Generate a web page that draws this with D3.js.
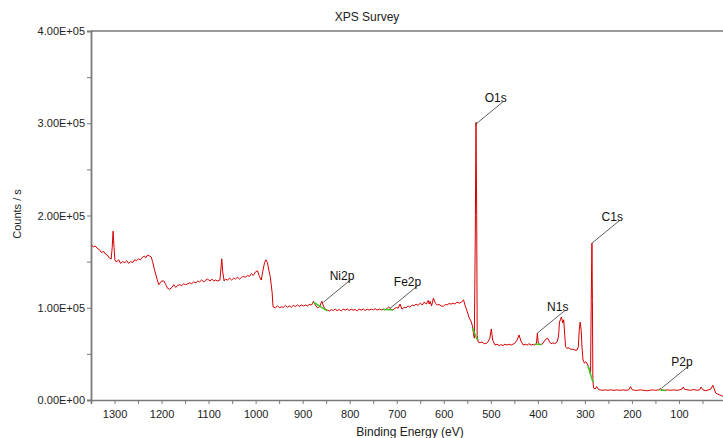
<!DOCTYPE html>
<html>
<head>
<meta charset="utf-8">
<script src="https://d3js.org/d3.v7.min.js"></script>
<style>
  body { margin: 0; background: #fff; }
  svg { display: block; font-family: "Liberation Sans", Arial, sans-serif; }
  .axis path, .axis line { stroke: #7a7a7a; }
  .axis text { fill: #222; font-size: 11px; }
</style>
</head>
<body>
<svg width="723" height="438"></svg>
<script>
// spectrum, binding energy (eV) and counts/s
var energy = [1349, 1345, 1341, 1336, 1332, 1328, 1323, 1319, 1315, 1311, 1307, 1305, 1303, 1301, 1299,
  1295, 1291, 1287, 1283, 1278, 1274, 1270, 1266, 1261, 1257, 1253, 1249, 1245, 1240, 1236, 1234, 1230,
  1225, 1222, 1219, 1215, 1210, 1206, 1203, 1200, 1195, 1191, 1187, 1183, 1178, 1174, 1170, 1166, 1161,
  1157, 1153, 1149, 1144, 1140, 1136, 1132, 1127, 1123, 1119, 1115, 1110, 1106, 1102, 1097, 1093, 1089,
  1085, 1081, 1076, 1074, 1072, 1070, 1067, 1064, 1060, 1055, 1051, 1047, 1043, 1039, 1034, 1030, 1026,
  1022, 1017, 1013, 1009, 1005, 1000, 996, 992, 988, 985, 981, 978, 975, 972, 969, 965, 963, 958, 954,
  949, 945, 941, 937, 932, 928, 924, 920, 915, 911, 907, 903, 898, 894, 890, 886, 881, 877, 873, 869,
  864, 861, 859, 856, 852, 848, 843, 839, 835, 831, 827, 822, 818, 814, 810, 805, 801, 797, 793, 788,
  784, 780, 776, 771, 767, 763, 759, 754, 750, 746, 742, 737, 733, 729, 725, 720, 717, 714, 710, 706,
  701, 697, 693, 689, 684, 680, 676, 672, 667, 663, 659, 655, 650, 646, 642, 637, 633, 631, 629, 626,
  622, 618, 614, 610, 605, 601, 597, 593, 589, 584, 580, 576, 572, 567, 563, 558, 555, 550, 546, 542,
  539, 537, 535, 533, 531.5, 530, 529, 527, 523, 519, 514, 509, 506, 502, 499, 496, 491, 487, 482, 478,
  474, 470, 466, 461, 457, 453, 449, 444, 440, 436, 431, 427, 423, 419, 414, 410, 406, 403, 401, 399,
  395, 391, 387, 383, 379, 375, 372, 368, 364, 359, 356, 354, 352, 350, 347, 345, 343, 341, 338, 334,
  330, 325, 321, 317, 314, 312, 310, 308, 306, 304, 301, 298, 295, 293, 290, 288, 286.5, 285, 284, 283,
  281.5, 278, 275, 271, 268, 264, 257, 251, 245, 238, 232, 226, 219, 213, 207, 203, 199, 194, 188, 181,
  175, 168, 162, 156, 150, 143, 139, 136, 130, 124, 118, 111, 105, 98, 93, 91, 88, 81, 75, 69, 62, 56,
  53, 49, 43, 37, 32, 28, 25, 22, 18, 13, 9, 5, 0];
var counts = [168000, 166000, 167000, 164000, 163000, 160000, 161000, 158000, 157000, 154000, 153000,
  165000, 183000, 165000, 151000, 150000, 152000, 148000, 150000, 149000, 151000, 148000, 150000, 149000,
  152000, 151000, 153000, 152000, 155000, 156000, 154000, 157000, 156000, 155000, 150000, 141000, 132000,
  125000, 127000, 129000, 129000, 125000, 121000, 120000, 122000, 125000, 122000, 124000, 125000, 124000,
  126000, 125000, 126000, 127000, 126000, 128000, 127000, 129000, 128000, 130000, 128000, 130000, 131000,
  129000, 131000, 129000, 130000, 129000, 130000, 141000, 153000, 139000, 129000, 131000, 130000, 132000,
  130000, 132000, 131000, 133000, 131000, 133000, 134000, 133000, 135000, 134000, 137000, 135000, 139000,
  140000, 134000, 130000, 139000, 149000, 152000, 149000, 141000, 134000, 117000, 101000, 100000, 102000,
  100000, 101000, 100500, 102500, 100500, 102000, 100500, 102500, 101500, 103000, 101500, 103000, 102000,
  103000, 102000, 103500, 103000, 107000, 103000, 100000, 101000, 105000, 107000, 102000, 98500, 97500,
  96500, 98000, 97000, 98500, 97000, 98000, 96500, 98500, 97500, 98500, 97000, 98500, 97500, 98000, 96500,
  98500, 97500, 98500, 97000, 98500, 97500, 98500, 97500, 99000, 97500, 98500, 97500, 98500, 97500, 99500,
  101000, 99000, 97500, 98500, 100500, 99500, 104000, 98500, 100500, 100000, 102000, 100500, 103000,
  102000, 104000, 102500, 105000, 103000, 106000, 104000, 108000, 104000, 107000, 102000, 110500, 105000,
  103000, 103500, 102000, 101500, 103500, 103000, 104500, 104000, 105000, 104000, 106000, 105000, 106000,
  108500, 103000, 95500, 89000, 85500, 80000, 72500, 67000, 180000, 301000, 200000, 70000, 63000, 62000,
  63000, 61000, 61500, 63000, 67000, 77000, 65000, 59500, 60500, 59000, 60000, 59000, 60500, 59500, 60500,
  59500, 60500, 61500, 65000, 70500, 64000, 59500, 60500, 59500, 61000, 59500, 60500, 59500, 61500, 72500,
  61500, 60000, 60500, 63000, 66000, 67000, 63000, 61000, 62000, 61000, 63000, 69500, 84500, 87000, 90000,
  83500, 87000, 71500, 57500, 56000, 56500, 55000, 55000, 54000, 54000, 57500, 76000, 84500, 76000, 56500,
  43500, 40000, 41500, 39000, 37000, 32500, 27000, 108000, 170000, 108000, 21500, 13000, 12000, 14500,
  11500, 11000, 10500, 11000, 10500, 11000, 10500, 11000, 10500, 11000, 10500, 11000, 14500, 11000, 10500,
  10500, 11000, 10500, 10000, 10500, 11000, 10500, 11000, 12500, 11000, 10500, 11000, 10500, 11000, 10500,
  11000, 12000, 14000, 11500, 11000, 10500, 11500, 10500, 11000, 14000, 11000, 10000, 11000, 12000, 16000,
  12000, 7500, 6500, 5500, 4500, 3500, 2000];

// peak labels and where their leader lines touch the spectrum
var peakNames = ["Ni2p", "Fe2p", "O1s", "N1s", "C1s", "P2p"];
var peakEnergy = [856, 714, 532, 401, 285, 137];
var peakCounts = [106000, 99400, 299000, 72500, 170000, 12700];

// green background segments under each labelled peak
var bgFromEnergy = [877, 729, 539, 406, 293.5, 141];
var bgFromCounts = [106000, 98500, 78000, 60700, 36900, 10800];
var bgToEnergy = [848, 708, 528.5, 393, 283, 128];
var bgToCounts = [96500, 97500, 65000, 60200, 19500, 10300];

var xTicks = d3.range(0, 1351, 50);
var yTicks = d3.range(0, 400001, 50000);

var svg = d3.select("svg"),
    width = +svg.attr("width"),
    height = +svg.attr("height");

var x = d3.scaleLinear().domain([1350, 0]).range([91, 726]);
var y = d3.scaleLinear().domain([0, 400000]).range([400, 31]);

function sci(v) {
  var s = v.toExponential(2).split("e");
  var p = +s[1];
  return s[0] + "E" + (p < 0 ? "-" : "+") + (Math.abs(p) < 10 ? "0" : "") + Math.abs(p);
}

// top frame line
svg.append("line")
    .attr("x1", 91).attr("x2", width)
    .attr("y1", y(400000)).attr("y2", y(400000))
    .attr("stroke", "#7a7a7a").attr("stroke-width", 1.6);

svg.append("g")
    .attr("class", "axis")
    .attr("transform", "translate(0," + y(0) + ")")
    .call(d3.axisBottom(x).tickValues(xTicks).tickSizeOuter(0).tickSize(4).tickPadding(6)
      .tickFormat(function (d) { return d % 100 === 0 ? d : ""; }))
    .call(function (g) { g.select(".domain").attr("stroke-width", 1.6); });

svg.append("g")
    .attr("class", "axis")
    .attr("transform", "translate(91,0)")
    .call(d3.axisLeft(y).tickValues(yTicks).tickSizeOuter(0).tickSize(4).tickPadding(2)
      .tickFormat(function (d) { return d % 100000 === 0 ? sci(d) : ""; }))
    .call(function (g) { g.select(".domain").attr("stroke-width", 1.8); });

var pts = energy.map(function (e, i) { return [e, counts[i]]; });

var line = d3.line()
    .x(function (d) { return x(d[0]); })
    .y(function (d) { return y(d[1]); });

svg.append("path")
    .datum(pts)
    .attr("fill", "none")
    .attr("stroke", "#d40000")
    .attr("stroke-width", 1)
    .attr("d", line);

svg.selectAll(".bg")
    .data(peakNames)
    .enter()
    .append("line")
    .attr("class", "bg")
    .attr("x1", function (d, i) { return x(bgFromEnergy[i]); })
    .attr("y1", function (d, i) { return y(bgFromCounts[i]); })
    .attr("x2", function (d, i) { return x(bgToEnergy[i]); })
    .attr("y2", function (d, i) { return y(bgToCounts[i]); })
    .attr("stroke", "#3ccc2a")
    .attr("stroke-width", 1.5);

// leader lines + labels
var ann = svg.selectAll(".ann")
    .data(peakNames)
    .enter()
    .append("g")
    .attr("class", "ann")
    .attr("transform", function (d, i) {
      return "translate(" + x(peakEnergy[i]) + "," + y(peakCounts[i]) + ")";
    });

ann.append("line")
    .attr("x1", 0).attr("y1", 0)
    .attr("x2", 28).attr("y2", -23)
    .attr("stroke", "#333")
    .attr("stroke-width", 0.8);

ann.append("text")
    .attr("x", 31)
    .attr("y", -22)
    .attr("text-anchor", "end")
    .attr("font-size", 12)
    .attr("fill", "#111")
    .text(function (d) { return d; });

svg.append("text")
    .attr("x", 367)
    .attr("y", 21)
    .attr("text-anchor", "middle")
    .attr("font-size", 12)
    .attr("fill", "#222")
    .text("XPS Survey");

svg.append("text")
    .attr("x", 410)
    .attr("y", 436)
    .attr("text-anchor", "middle")
    .attr("font-size", 12)
    .attr("fill", "#222")
    .text("Binding Energy (eV)");

svg.append("text")
    .attr("transform", "translate(21,214) rotate(-90)")
    .attr("text-anchor", "middle")
    .attr("font-size", 11)
    .attr("fill", "#222")
    .text("Counts / s");
</script>
</body>
</html>
